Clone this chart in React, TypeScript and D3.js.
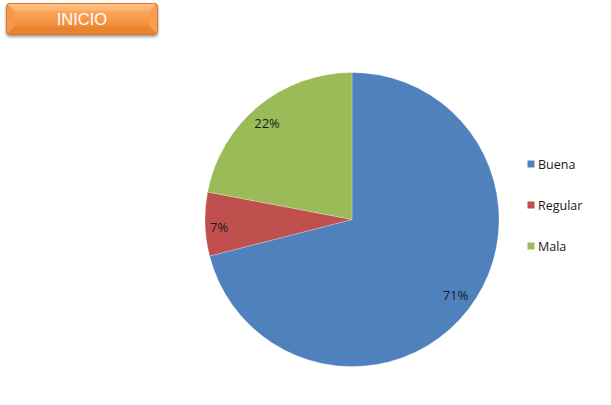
import React from "react";
import * as d3 from "d3";

const categories = ["Buena", "Regular", "Mala"];
const values = [71, 7, 22];
const colors = ["#4F81BD", "#C0504D", "#9BBB59"];
const labels = ["71%", "7%", "22%"];

const W = 611;
const H = 405;
const cx = 352;
const cy = 219.5;
const R = 147;

// approximate label box size used to place labels just inside the rim
const labelFont = 13;
const textWidth = (s: string) => s.length * labelFont * 0.58;

export default function App() {
  const pie = d3.pie<number>().sort(null).value((d) => d);
  const arcs = pie(values);
  const arc = d3.arc<d3.PieArcDatum<number>>().innerRadius(0).outerRadius(R);

  const legendY = d3.scalePoint<string>().domain(categories).range([164, 246]);

  // button geometry
  const bx = 6, by = 3, bw = 152, bh = 32, bev = 8;

  return (
    <svg
      width={W}
      height={H}
      style={{ position: "absolute", left: 0, top: 0, fontFamily: "'Open Sans', 'Liberation Sans', sans-serif" }}
    >
      <defs>
        <linearGradient id="btnFace" x1="0" y1="0" x2="0" y2="1">
          <stop offset="0" stopColor="#FBA75E" />
          <stop offset="1" stopColor="#F28A36" />
        </linearGradient>
        <linearGradient id="btnTop" x1="0" y1="0" x2="0" y2="1">
          <stop offset="0" stopColor="#FFC48A" />
          <stop offset="1" stopColor="#FCAE6A" />
        </linearGradient>
        <filter id="btnShadow" x="-10%" y="-20%" width="120%" height="160%">
          <feGaussianBlur in="SourceAlpha" stdDeviation="1.5" />
          <feOffset dx="0" dy="2" result="b" />
          <feComponentTransfer>
            <feFuncA type="linear" slope="0.4" />
          </feComponentTransfer>
          <feMerge>
            <feMergeNode />
            <feMergeNode in="SourceGraphic" />
          </feMerge>
        </filter>
      </defs>
      <rect width={W} height={H} fill="#FFFFFF" />

      {/* INICIO button */}
      <g filter="url(#btnShadow)">
        <rect x={bx} y={by} width={bw} height={bh} rx={4} fill="#F08A38" />
        <path
          d={`M${bx + 1},${by + 1} L${bx + bw - 1},${by + 1} L${bx + bw - bev},${by + bev} L${bx + bev},${by + bev} Z`}
          fill="url(#btnTop)"
        />
        <path
          d={`M${bx + 1},${by + 1} L${bx + bev},${by + bev} L${bx + bev},${by + bh - bev} L${bx + 1},${by + bh - 1} Z`}
          fill="#F59A4E"
        />
        <path
          d={`M${bx + bw - 1},${by + 1} L${bx + bw - bev},${by + bev} L${bx + bw - bev},${by + bh - bev} L${bx + bw - 1},${by + bh - 1} Z`}
          fill="#F99E52"
        />
        <path
          d={`M${bx + 1},${by + bh - 1} L${bx + bev},${by + bh - bev} L${bx + bw - bev},${by + bh - bev} L${bx + bw - 1},${by + bh - 1} Z`}
          fill="#E9832F"
        />
        <rect x={bx + bev} y={by + bev} width={bw - 2 * bev} height={bh - 2 * bev} fill="url(#btnFace)" />
        <rect x={bx + 0.5} y={by + 0.5} width={bw - 1} height={bh - 1} rx={4} fill="none" stroke="#E0782A" strokeWidth={1} />
      </g>
      <text
        x={bx + bw / 2}
        y={by + bh / 2}
        dy="0.36em"
        textAnchor="middle"
        fill="#FFFFFF"
        fontSize={16.5}
        fontFamily="'Liberation Sans', Arial, sans-serif"
      >
        INICIO
      </text>

      {/* pie */}
      <g transform={`translate(${cx},${cy})`}>
        {arcs.map((a, i) => (
          <path key={categories[i]} d={arc(a) ?? ""} fill={colors[i]} stroke="#FFFFFF" strokeOpacity={0.5} strokeWidth={0.5} />
        ))}
        {arcs.map((a, i) => {
          // labels sit slightly back from the slice bisector, as in the spreadsheet layout
          const mid = (a.startAngle + a.endAngle) / 2 - 0.03;
          const s = Math.sin(mid);
          const c = Math.cos(mid);
          const half = Math.abs(s) * textWidth(labels[i]) / 2 + Math.abs(c) * labelFont / 2;
          const r = R - 6 - half;
          return (
            <text
              key={"l" + categories[i]}
              x={r * s}
              y={-r * c}
              dy="0.36em"
              textAnchor="middle"
              fontSize={labelFont}
              fill="#1a1a1a"
            >
              {labels[i]}
            </text>
          );
        })}
      </g>

      {/* legend */}
      {categories.map((c, i) => (
        <g key={"lg" + c} transform={`translate(527.5,${legendY(c)})`}>
          <rect x={0} y={-3.5} width={7} height={7} fill={colors[i]} />
          <text x={10.5} y={0} dy="0.36em" fontSize={12.5} fill="#1a1a1a">
            {c}
          </text>
        </g>
      ))}
    </svg>
  );
}
